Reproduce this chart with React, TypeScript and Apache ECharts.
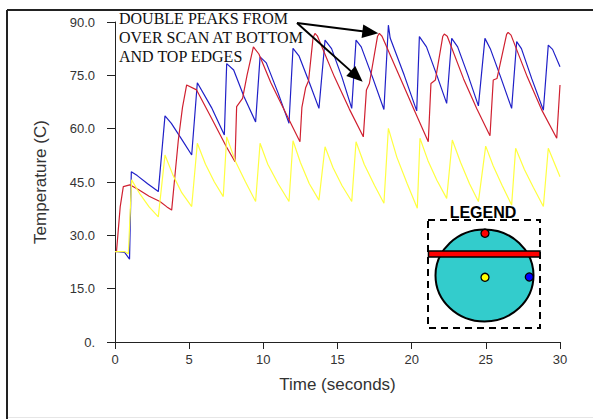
import React, { useEffect, useRef } from "react";
import * as echarts from "echarts";

const xTicks = { min: 0, max: 30, interval: 5 };
const yTicks = { min: 0, max: 90, interval: 15 };

const blueSeries: [number, number][] = [
  [0, 25.5], [0.65, 25.2], [0.98, 23.3], [1.1, 47.9], [1.5, 46.8], [2.2, 44.5], [2.92, 42.3],
  [3.37, 63.6], [3.8, 61.5], [4.5, 57], [5.17, 52.6], [5.55, 72.9], [6.5, 66], [7.37, 58.2],
  [7.53, 78.3], [8.0, 76.5], [8.7, 69], [9.48, 61.9], [9.78, 80.2], [10.2, 78.5], [11.0, 70],
  [11.73, 61.5], [12.0, 82.6], [12.4, 80.5], [13.1, 73], [13.75, 65.7], [14.16, 84.9],
  [14.6, 82.5], [15.3, 74.5], [15.96, 65.7], [16.25, 84.9], [16.6, 83], [17.4, 74],
  [18.13, 65.4], [18.43, 89.1], [18.55, 85.5], [19.5, 75], [20.34, 65.0], [20.52, 85.9],
  [21.0, 83], [21.7, 75], [22.36, 67.1], [22.7, 85.4], [23.1, 83], [23.8, 75], [24.5, 66.4],
  [24.94, 85.4], [25.3, 82.5], [26.0, 74.5], [26.74, 65.7], [27.08, 84.5], [27.4, 82.5],
  [28.1, 74], [28.88, 65.2], [29.21, 83.5], [29.5, 82.3], [30, 77.4],
];

const redSeries: [number, number][] = [
  [0, 25.4], [0.1, 25.4], [0.35, 38], [0.56, 43.7], [1.0, 44.2], [1.6, 42.8], [2.3, 41],
  [3.03, 39.5], [3.5, 38], [3.82, 37.1], [4.0, 45], [4.27, 56.8], [4.55, 66], [4.83, 72.3],
  [5.5, 70.9], [6.5, 63], [7.5, 55], [8.09, 50.7], [8.2, 66.2], [8.6, 68.5], [8.9, 75],
  [9.33, 83.0], [9.7, 81], [10.5, 73], [11.5, 64.5], [12.47, 56.3], [12.6, 66], [12.85, 71.5],
  [13.05, 73.5], [13.35, 85.5], [13.48, 86.8], [13.65, 86], [14.8, 74.5], [15.8, 65.5],
  [16.74, 57.7], [16.95, 70.9], [17.15, 72.7], [17.7, 86], [17.82, 86.8], [18.0, 86],
  [19.2, 74.5], [20.2, 65], [21.12, 56.3], [21.3, 72.7], [21.6, 73.7], [22.1, 86],
  [22.2, 86.6], [22.4, 86], [23.5, 74], [24.4, 65.5], [25.28, 58.0], [25.5, 73.7],
  [25.75, 74.1], [26.4, 86.5], [26.5, 87.1], [26.7, 86.3], [27.8, 74.5], [28.8, 65],
  [29.78, 57.3], [30, 72.3],
];

const yellowSeries: [number, number][] = [
  [0, 25.4], [0.67, 25.4], [0.9, 24.8], [1.12, 45.6], [1.7, 41.5], [2.3, 38], [2.92, 35.2],
  [3.37, 52.6], [3.9, 47], [4.5, 42], [5.17, 38.1], [5.55, 55.9], [6.1, 50], [6.7, 45],
  [7.3, 40.9], [7.53, 57.7], [8.1, 51], [8.8, 45], [9.48, 39.5], [9.78, 55.9], [10.3, 50],
  [11.0, 44.5], [11.73, 39.5], [12.0, 56.6], [12.5, 50.5], [13.1, 44.5], [13.75, 39.9],
  [14.16, 54.9], [14.7, 49], [15.3, 44], [15.96, 39.5], [16.25, 56.3], [16.8, 50], [17.5, 44],
  [18.13, 39.0], [18.43, 60.1], [19.0, 52], [19.7, 44.5], [20.38, 37.6], [20.56, 57.3],
  [21.1, 51], [21.7, 45.5], [22.36, 40.4], [22.74, 56.8], [23.3, 50.5], [23.9, 44.5],
  [24.5, 39.5], [24.99, 55.1], [25.5, 49.5], [26.1, 44], [26.74, 38.5], [27.01, 54.5],
  [27.6, 48.5], [28.2, 43.5], [28.88, 38.1], [29.21, 54.5], [30, 46.5],
];

const annotationLines = ["DOUBLE PEAKS FROM", "OVER SCAN AT BOTTOM", "AND TOP EDGES"];
const xAxisTitle = "Time (seconds)";
const yAxisTitle = "Temperature (C)";
const legendTitle = "LEGEND";

function arrow(x1: number, y1: number, x2: number, y2: number) {
  const dx = x2 - x1;
  const dy = y2 - y1;
  const len = Math.sqrt(dx * dx + dy * dy);
  const ux = dx / len;
  const uy = dy / len;
  const hl = 16;
  const hw = 6.8;
  const bx = x2 - ux * hl;
  const by = y2 - uy * hl;
  return [
    {
      type: "line",
      shape: { x1, y1, x2: bx + ux * 2, y2: by + uy * 2 },
      style: { stroke: "#000", lineWidth: 2 },
      z: 100,
    },
    {
      type: "polygon",
      shape: {
        points: [
          [x2, y2],
          [bx - uy * hw, by + ux * hw],
          [bx + uy * hw, by - ux * hw],
        ],
      },
      style: { fill: "#000" },
      z: 100,
    },
  ];
}

export default function App() {
  const ref = useRef<HTMLDivElement>(null);
  useEffect(() => {
    if (!ref.current) return;
    const chart = echarts.init(ref.current, undefined, { renderer: "svg" });
    const axisColor = "#222";
    const labelColor = "#333";
    const font = "Liberation Sans, Arial, sans-serif";
    chart.setOption({
      animation: false,
      backgroundColor: "#fff",
      grid: { left: 115, top: 22, right: 33, bottom: 77 },
      xAxis: {
        type: "value",
        min: xTicks.min,
        max: xTicks.max,
        interval: xTicks.interval,
        name: xAxisTitle,
        nameLocation: "middle",
        nameGap: 34,
        nameTextStyle: { fontSize: 17, color: labelColor, fontFamily: font },
        axisLine: { show: true, lineStyle: { color: axisColor, width: 1 } },
        axisTick: { show: true, length: 7, lineStyle: { color: axisColor } },
        axisLabel: {
          color: labelColor,
          fontSize: 13,
          fontFamily: font,
          margin: 11,
        },
        splitLine: { show: false },
      },
      yAxis: {
        type: "value",
        min: yTicks.min,
        max: yTicks.max,
        interval: yTicks.interval,
        name: yAxisTitle,
        nameLocation: "middle",
        nameGap: 66,
        nameRotate: 90,
        nameTextStyle: { fontSize: 17, color: labelColor, fontFamily: font },
        axisLine: { show: true, lineStyle: { color: axisColor, width: 1 } },
        axisTick: { show: true, length: 8, lineStyle: { color: axisColor } },
        axisLabel: {
          color: labelColor,
          fontSize: 13,
          fontFamily: font,
          margin: 20,
          formatter: (v: number) => (v === 0 ? "0." : v.toFixed(1)),
        },
        splitLine: { show: false },
      },
      series: [
        {
          type: "line",
          data: blueSeries,
          showSymbol: false,
          lineStyle: { color: "#2020c8", width: 1.2 },
          itemStyle: { color: "#2020c8" },
        },
        {
          type: "line",
          data: redSeries,
          showSymbol: false,
          lineStyle: { color: "#d02030", width: 1.2 },
          itemStyle: { color: "#d02030" },
        },
        {
          type: "line",
          data: yellowSeries,
          showSymbol: false,
          lineStyle: { color: "#ffff40", width: 1.2 },
          itemStyle: { color: "#ffff40" },
        },
      ],
      graphic: [
        {
          type: "line",
          shape: { x1: 7, y1: 10, x2: 593, y2: 10 },
          style: { stroke: "#222", lineWidth: 2 },
        },
        {
          type: "line",
          shape: { x1: 7, y1: 10, x2: 7, y2: 419 },
          style: { stroke: "#222", lineWidth: 2 },
        },
        {
          type: "line",
          shape: { x1: 8, y1: 417.5, x2: 593, y2: 417.5 },
          style: { stroke: "#e6e6e6", lineWidth: 1 },
        },
        ...annotationLines.map((t, i) => ({
          type: "text",
          left: 119,
          top: 10 + i * 19,
          style: {
            text: t,
            fill: "#111",
            font: "16px 'Liberation Serif', 'Times New Roman', serif",
          },
          z: 100,
        })),
        ...arrow(297, 23, 378.3, 33.3),
        ...arrow(297, 23, 362.7, 81.7),
        {
          type: "text",
          x: 483,
          y: 212,
          style: {
            text: legendTitle,
            fill: "#000",
            font: "bold 16px 'Liberation Sans', Arial, sans-serif",
            textAlign: "center",
            textVerticalAlign: "middle",
          },
          z: 100,
        },
        {
          type: "rect",
          shape: { x: 428, y: 220, width: 112, height: 108 },
          style: { fill: "none", stroke: "#000", lineWidth: 2, lineDash: [7, 5] },
          z: 100,
        },
        {
          type: "ellipse",
          shape: { cx: 484.5, cy: 275.5, rx: 49, ry: 46 },
          style: { fill: "#33cccc", stroke: "#000", lineWidth: 2 },
          z: 101,
        },
        {
          type: "rect",
          shape: { x: 428.5, y: 251, width: 111.5, height: 6 },
          style: { fill: "#ff0000", stroke: "#000", lineWidth: 1.5 },
          z: 102,
        },
        {
          type: "circle",
          shape: { cx: 485, cy: 233.3, r: 4 },
          style: { fill: "#ff0000", stroke: "#000", lineWidth: 1.3 },
          z: 103,
        },
        {
          type: "circle",
          shape: { cx: 485, cy: 277.3, r: 4 },
          style: { fill: "#ffff00", stroke: "#000", lineWidth: 1.3 },
          z: 103,
        },
        {
          type: "circle",
          shape: { cx: 529.3, cy: 277, r: 4 },
          style: { fill: "#0000ff", stroke: "#000", lineWidth: 1.3 },
          z: 103,
        },
      ],
    });
    return () => chart.dispose();
  }, []);
  return (
    <div
      ref={ref}
      style={{ position: "fixed", left: 0, top: 0, width: 593, height: 419, background: "#fff" }}
    />
  );
}
